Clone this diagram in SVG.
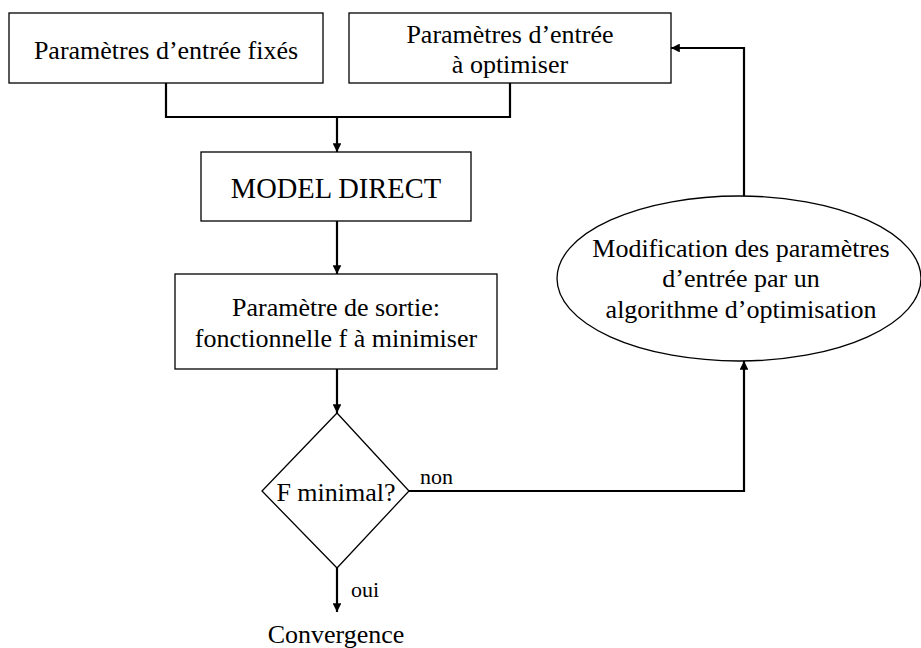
<svg xmlns="http://www.w3.org/2000/svg" width="921" height="648" viewBox="0 0 921 648">
<style>
.box{fill:#fff;stroke:#000;stroke-width:1.3}
.t{font-family:"Liberation Serif","Times New Roman",serif;font-size:26px;fill:#000;text-anchor:middle}
.s{font-family:"Liberation Serif","Times New Roman",serif;font-size:22px;fill:#000}
.c{fill:none;stroke:#000;stroke-width:2.2}
</style>
<defs>
<marker id="ah" viewBox="0 0 10 10" refX="10" refY="5" markerWidth="4" markerHeight="4" orient="auto" markerUnits="strokeWidth">
<path d="M0,0 L10,5 L0,10 z" fill="#000"/>
</marker>
</defs>
<rect width="921" height="648" fill="#fff"/>
<g id="connectors">
<path class="c" d="M166,83 V117 H510 V83"/>
<path class="c" d="M337,117 V152" marker-end="url(#ah)"/>
<path class="c" d="M337,221 V274" marker-end="url(#ah)"/>
<path class="c" d="M337,369 V413" marker-end="url(#ah)"/>
<path class="c" d="M409,491 H744 V361" marker-end="url(#ah)"/>
<path class="c" d="M744,196 V48 H671" marker-end="url(#ah)"/>
<path class="c" d="M337,568 V612" marker-end="url(#ah)"/>
<text class="s" x="420" y="484">non</text>
<text class="s" x="351" y="597">oui</text>
</g>
<g id="node-fixes">
<rect class="box" x="9" y="13" width="314" height="70"/>
<text class="t" x="166" y="59">Paramètres d’entrée fixés</text>
</g>
<g id="node-optimiser">
<rect class="box" x="349" y="13" width="322" height="70"/>
<text class="t" x="510" y="43">Paramètres d’entrée</text>
<text class="t" x="510" y="73">à optimiser</text>
</g>
<g id="node-model">
<rect class="box" x="201" y="152" width="270" height="69"/>
<text class="t" x="336" y="198" style="font-size:28.5px">MODEL DIRECT</text>
</g>
<g id="node-sortie">
<rect class="box" x="175" y="274" width="322" height="95"/>
<text class="t" x="336" y="316">Paramètre de sortie:</text>
<text class="t" x="336" y="347">fonctionnelle f à minimiser</text>
</g>
<g id="node-decision">
<polygon class="box" points="337,413 409,491 337,568 262,491"/>
<text class="t" x="336" y="501">F minimal?</text>
</g>
<g id="node-modification">
<ellipse class="box" cx="739" cy="278.5" rx="182" ry="82.5"/>
<text class="t" x="741" y="257">Modification des paramètres</text>
<text class="t" x="741" y="287">d’entrée par un</text>
<text class="t" x="741" y="318">algorithme d’optimisation</text>
</g>
<g id="node-convergence">
<text class="t" x="336" y="643">Convergence</text>
</g>
</svg>
